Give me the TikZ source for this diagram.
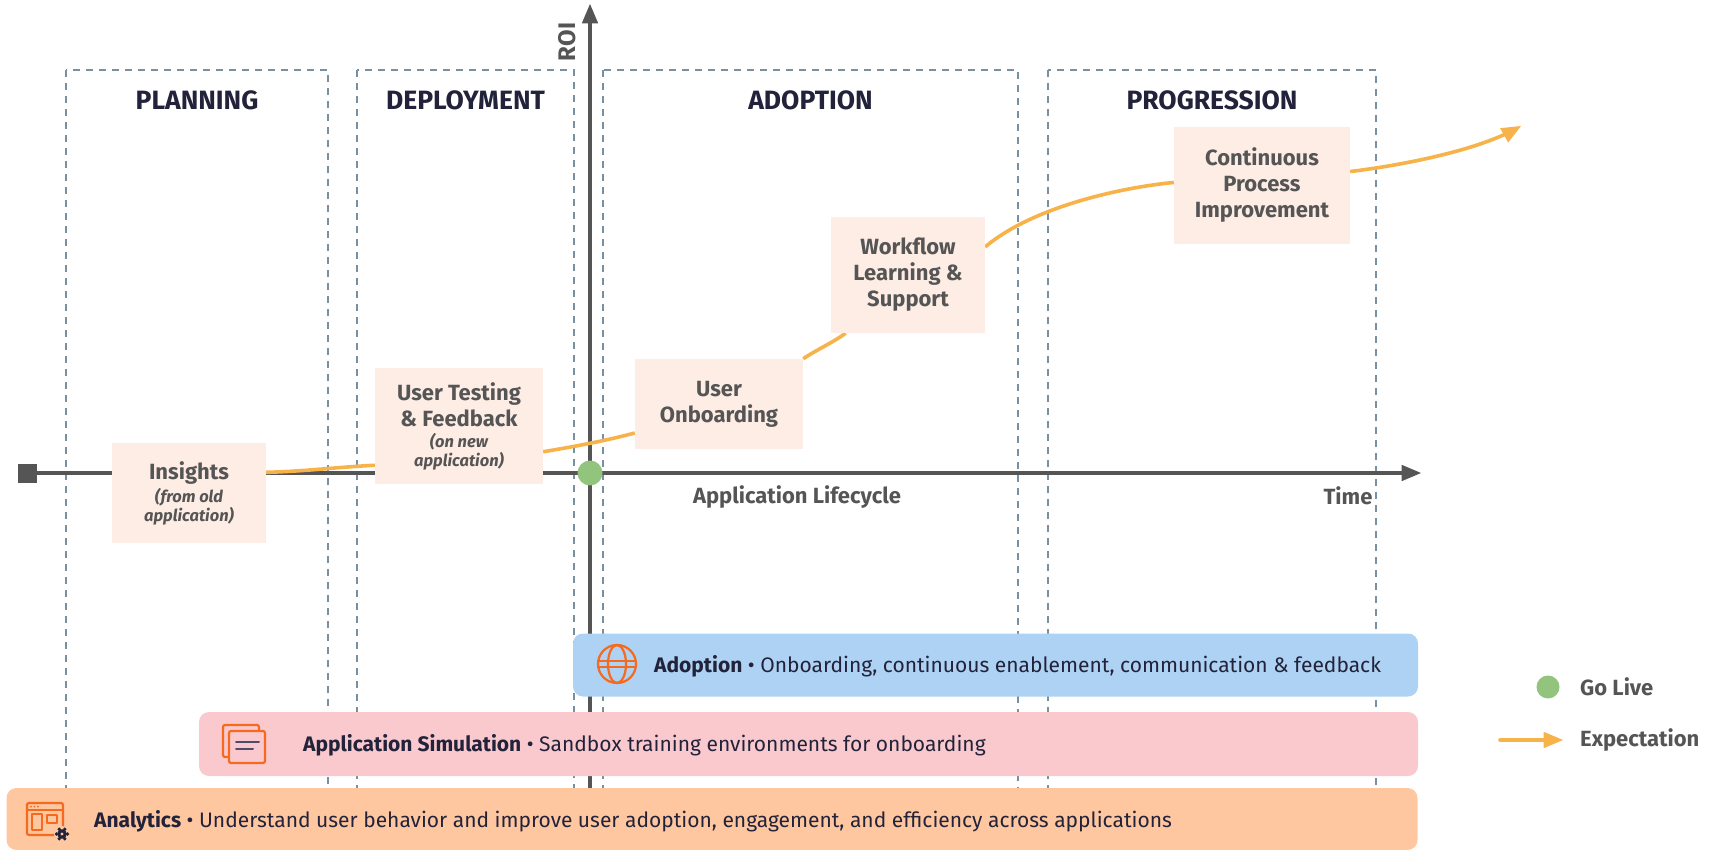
\documentclass[tikz,border=0pt]{standalone}
\usepackage{fontspec}
\setmainfont{Fira Sans}
\usetikzlibrary{arrows}
\definecolor{dgray}{HTML}{555555}
\definecolor{navy}{HTML}{22223A}
\definecolor{slate}{HTML}{7890A0}
\definecolor{peach}{HTML}{FEEDE5}
\definecolor{amber}{HTML}{F7B24A}
\definecolor{golive}{HTML}{93C47D}
\definecolor{skyb}{HTML}{AED2F3}
\definecolor{rosep}{HTML}{F9C9CE}
\definecolor{apric}{HTML}{FFC7A0}
\definecolor{icono}{HTML}{F56A1E}
\definecolor{lineg}{HTML}{4D4D6B}
\pgfdeclarelayer{back}
\pgfdeclarelayer{mid}
\pgfsetlayers{back,mid,main}

\begin{document}
\begin{tikzpicture}[x=1pt,y=-1pt,line cap=round,line join=round,>=triangle 45,
  phase/.style={draw=slate,line width=1.6pt,dash pattern=on 7pt off 6pt,line cap=butt},
  phasetitle/.style={text=navy,font=\fontsize{26.5}{30}\selectfont\bfseries},
  axis/.style={draw=dgray,line width=3.6pt,line cap=butt},
  expect/.style={draw=amber,line width=3.6pt},
  stepbox/.style={fill=peach,inner sep=0pt,align=center,text=dgray,font=\fontsize{22}{26}\selectfont\bfseries},
  axislabel/.style={text=dgray,font=\fontsize{22}{26}\selectfont\bfseries},
  bar/.style={rounded corners=10pt,inner sep=0pt},
  bartext/.style={anchor=west,inner sep=0pt,text=navy,font=\fontsize{21}{25}\selectfont},
  icon/.style={draw=icono,line width=2.2pt},
  legend/.style={anchor=west,inner sep=0pt,text=dgray,font=\fontsize{22}{26}\selectfont\bfseries}]
\newcommand{\subtxt}{\fontsize{16.5}{19}\selectfont\itshape}
\useasboundingbox (0,0) rectangle (1714,850);
\begin{pgfonlayer}{back}
\draw[phase] (66,70) rectangle (328,842);
\draw[phase] (357,70) rectangle (574,842);
\draw[phase] (603,70) rectangle (1018,842);
\draw[phase] (1048,70) rectangle (1376,842);
\node[fill=dgray,minimum size=19pt,inner sep=0pt] (start) at (27,473) {};
\coordinate (tend) at (1421,473);
\coordinate (rbot) at (590,805);
\coordinate (rtop) at (590,4);
\draw[axis,->] (start) -- (tend);
\draw[axis,->] (rbot) -- (rtop);
\end{pgfonlayer}
\node[phasetitle] (plan) at (197,100) {PLANNING};
\node[phasetitle] (depl) at (465.5,100) {DEPLOYMENT};
\node[phasetitle] (adop) at (810.5,100) {ADOPTION};
\node[phasetitle] (prog) at (1212,100) {PROGRESSION};
\node[rotate=90,axislabel,font=\fontsize{24}{26}\selectfont\bfseries] (roi) at (567,42) {ROI};
\node[axislabel] (life) at (797,497) {Application Lifecycle};
\node[axislabel] (time) at (1348,496) {Time};
\node[stepbox,minimum width=154pt,minimum height=100pt] (ins) at (189,493) {Insights\\[-3pt]{\subtxt (from old}\\[-7pt]{\subtxt application)}};
\node[stepbox,minimum width=168pt,minimum height=116pt] (test) at (459,426) {User Testing\\\& Feedback\\[-5pt]{\subtxt (on new}\\[-7pt]{\subtxt application)}};
\node[stepbox,minimum width=168pt,minimum height=90pt] (onb) at (719,404) {User\\Onboarding};
\node[stepbox,minimum width=154pt,minimum height=116pt] (wfl) at (908,275) {Workflow\\Learning \&\\Support};
\node[stepbox,minimum width=176pt,minimum height=117pt] (cpi) at (1262,185.5) {Continuous\\Process\\Improvement};
\coordinate (tip) at (1521,126);
\begin{pgfonlayer}{mid}
\draw[expect] (ins.15) .. controls +(40,-1) and +(-40,2) .. (test.205);
\draw[expect] (test.343) .. controls +(30,-5) and +(-30,8) .. (onb.199);
\draw[expect] (onb.north east) .. controls +(15,-10) and +(-12,9) .. (wfl.223);
\draw[expect] (wfl.20) .. controls +(45,-38) and +(-60,6) .. (cpi.178);
\draw[expect,->] (cpi.9) .. controls +(50,-6) and +(-45,25) .. (tip);
\end{pgfonlayer}
\node[circle,fill=golive,minimum size=25pt,inner sep=0pt] (live) at (590,473) {};
\node[bar,fill=skyb,minimum width=845pt,minimum height=63pt] (adbar) at (995.5,665) {};
\node[bar,fill=rosep,minimum width=1219pt,minimum height=64pt] (simbar) at (808.5,744) {};
\node[bar,fill=apric,minimum width=1411pt,minimum height=62pt] (anbar) at (712,819) {};
\draw[icon] (617,664) circle (19);
\draw[icon] (617,664) ellipse (9 and 19);
\draw[icon] (598,661) -- (636,661);
\draw[icon] (598,667) -- (636,667);
\draw[icon,rounded corners=2pt] (223,725) rectangle (259,757);
\filldraw[icon,fill=rosep,rounded corners=2pt] (229,731) rectangle (265,763);
\draw[lineg,line width=2pt] (236,742) -- (259,742);
\draw[lineg,line width=2pt] (236,749) -- (253,749);
\draw[icon,rounded corners=2pt] (27,803) rectangle (63,835);
\draw[icon] (27,810) -- (63,810);
\foreach \d in {31,34.5,38} \fill[icono] (\d,806.5) circle (1);
\draw[icon,line width=1.8pt] (32,814) rectangle (42,830);
\draw[icon,line width=1.8pt] (47,815) rectangle (57,823);
\fill[apric] (62,834) circle (8);
\foreach \a in {0,60,...,300} \fill[navy] ([shift={(\a:5.5)}]62,834) circle (1.8);
\fill[navy] (62,834) circle (4.8);
\fill[apric] (62,834) circle (1.6);
\node[bartext] (adtxt) at (654,666) {\textbf{Adoption} \textbullet{} Onboarding, continuous enablement, communication \& feedback};
\node[bartext] (simtxt) at (303,745) {\textbf{Application Simulation} \textbullet{} Sandbox training environments for onboarding};
\node[bartext] (antxt) at (94,821) {\textbf{Analytics} \textbullet{} Understand user behavior and improve user adoption, engagement, and efficiency across applications};
\node[circle,fill=golive,minimum size=23pt,inner sep=0pt] (keylive) at (1548,687) {};
\node[legend] (keylivetxt) at (1580,687) {Go Live};
\coordinate (keya) at (1500,740);
\coordinate (keyb) at (1563,740);
\draw[expect,->] (keya) -- (keyb);
\node[legend] (keyexptxt) at (1580,740) {Expectation};
\end{tikzpicture}
\end{document}
